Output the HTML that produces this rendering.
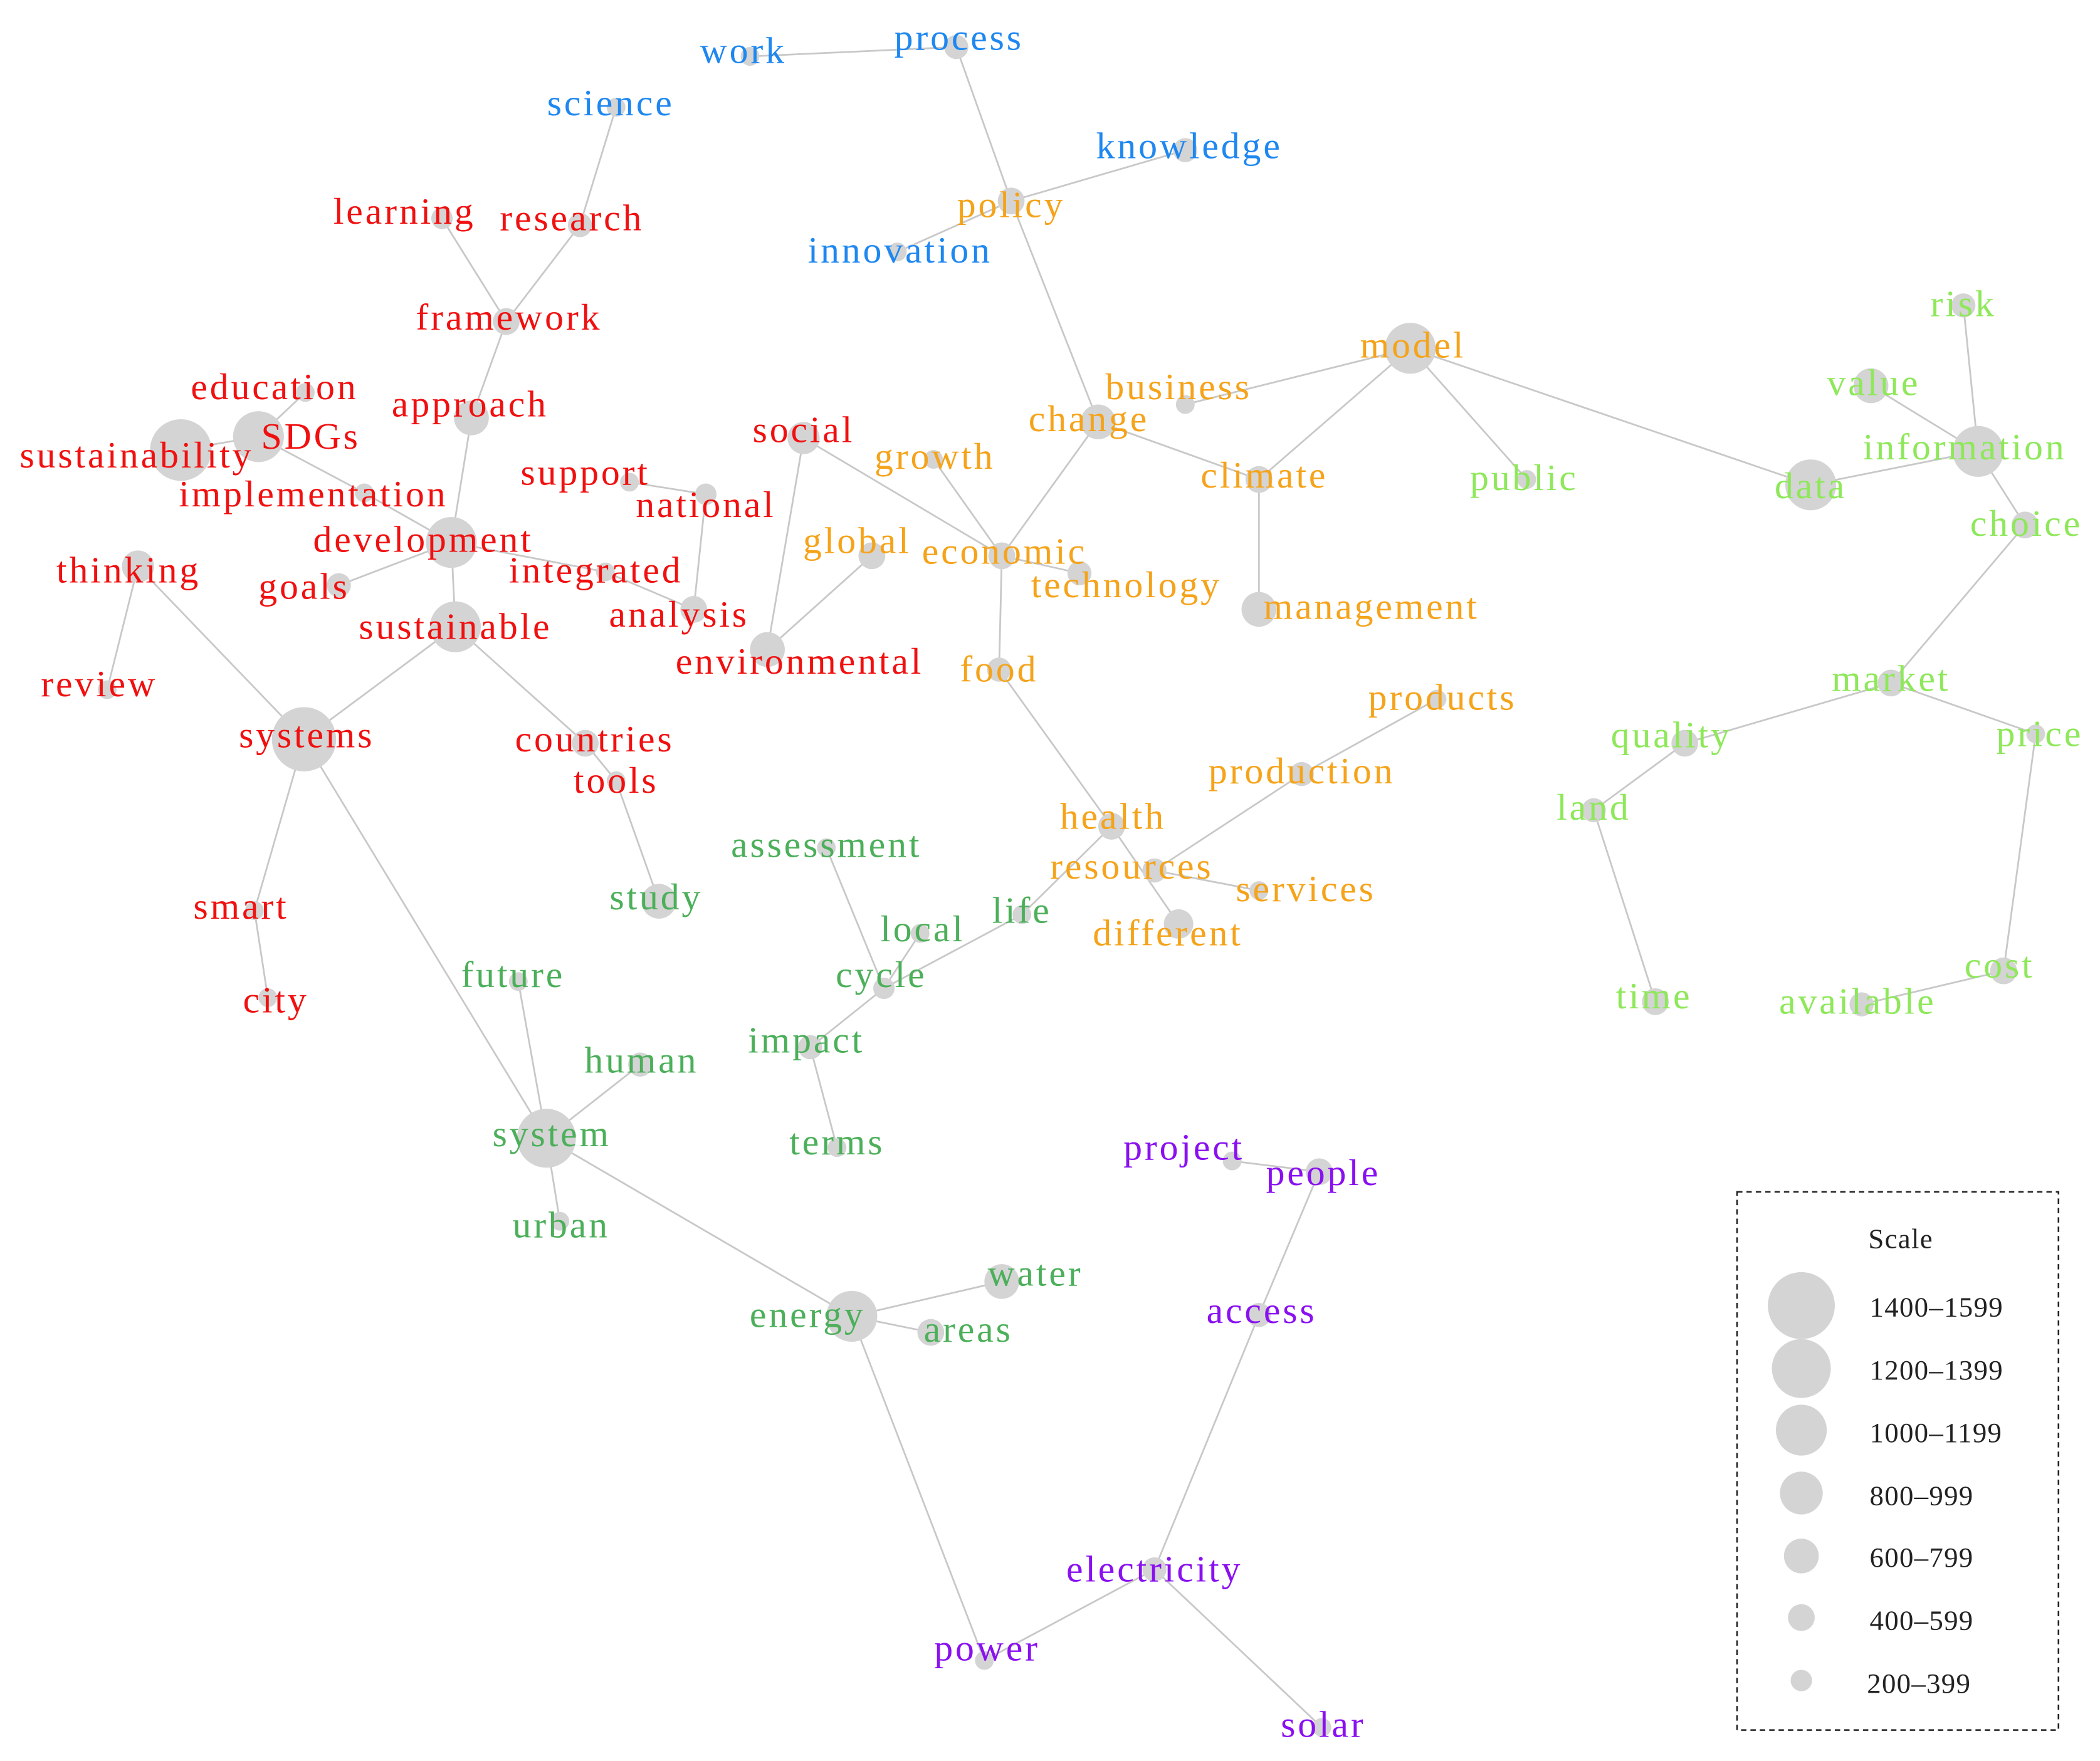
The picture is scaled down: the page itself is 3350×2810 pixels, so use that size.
<!DOCTYPE html>
<html><head><meta charset="utf-8"><style>
html,body{margin:0;padding:0;background:#fff;}
svg{display:block;}
text{font-family:"Liberation Serif",serif;font-size:28px;letter-spacing:1.8px;text-anchor:middle;}
text.lg{font-size:21px;letter-spacing:0.6px;text-anchor:start;fill:#222;}
.b{fill:#1e87f0}.r{fill:#f01010}.o{fill:#f5a31a}.g{fill:#4caf5a}.l{fill:#8ee85a}.p{fill:#8a10f0}
</style></head><body>
<svg width="3350" height="2810" viewBox="0 0 1568 1315" xmlns="http://www.w3.org/2000/svg">
<g stroke="#c8c8c8" stroke-width="1.3" fill="none">
<path d="M560 42L714 35L755 150L820 315M885 112L755 150L670 188"/>
<path d="M460 80L433 168L378 240L330 163M378 240L352 312L337 405L340 468L227 552L103 423L80 515"/>
<path d="M135 336L193 326L228 293M193 326L272 368L337 405L253 437M337 405L452 427L518 455L527 369L470 360"/>
<path d="M340 468L437 555L460 583L492 673M227 552L190 680L200 745M227 552L408 850"/>
<path d="M600 327L573 485L651 415M600 327L748 415L820 315L940 358L1053 260L885 302M1053 260L1140 358M1053 260L1352 362"/>
<path d="M697 343L748 415L806 428M748 415L746 500L830 617L880 690M940 358L940 455"/>
<path d="M1073 522L972 578L862 650L940 665M830 617L763 683L660 738L617 633M687 697L660 738L605 782L625 857"/>
<path d="M387 733L408 850L478 795M408 850L418 912M408 850L636 983L748 957M636 983L695 995M636 983L735 1240L862 1172L987 1290M862 1172L940 982L985 875L920 867"/>
<path d="M1466 228L1477 337L1397 288M1477 337L1352 362M1477 337L1512 392L1412 510L1520 548L1496 725L1390 750M1412 510L1258 555L1190 605L1236 748"/>
</g>
<g fill="#d4d4d4">
<circle cx="560" cy="42" r="7"/><circle cx="714" cy="35" r="9"/><circle cx="460" cy="80" r="7"/><circle cx="885" cy="112" r="9"/><circle cx="755" cy="150" r="10"/><circle cx="670" cy="188" r="7"/>
<circle cx="330" cy="163" r="8"/><circle cx="433" cy="168" r="9"/><circle cx="378" cy="240" r="10"/><circle cx="352" cy="312" r="13"/><circle cx="228" cy="293" r="7"/><circle cx="193" cy="326" r="19"/><circle cx="135" cy="336" r="23"/><circle cx="272" cy="368" r="7"/><circle cx="337" cy="405" r="19"/><circle cx="253" cy="437" r="9"/><circle cx="452" cy="427" r="7"/><circle cx="518" cy="455" r="10"/><circle cx="527" cy="369" r="8"/><circle cx="470" cy="360" r="7"/><circle cx="340" cy="468" r="19"/><circle cx="437" cy="555" r="10"/><circle cx="460" cy="583" r="7"/><circle cx="227" cy="552" r="24"/><circle cx="103" cy="423" r="12"/><circle cx="80" cy="515" r="7"/><circle cx="190" cy="680" r="7"/><circle cx="200" cy="745" r="7"/><circle cx="600" cy="327" r="12"/><circle cx="573" cy="485" r="13"/>
<circle cx="651" cy="415" r="10"/><circle cx="697" cy="343" r="7"/><circle cx="748" cy="415" r="10"/><circle cx="806" cy="428" r="9"/><circle cx="820" cy="315" r="13"/><circle cx="885" cy="302" r="7"/><circle cx="1053" cy="260" r="19"/><circle cx="940" cy="358" r="10"/><circle cx="940" cy="455" r="13"/><circle cx="746" cy="500" r="9"/><circle cx="830" cy="617" r="10"/><circle cx="862" cy="650" r="9"/><circle cx="880" cy="690" r="11"/><circle cx="940" cy="665" r="7"/><circle cx="972" cy="578" r="9"/><circle cx="1073" cy="522" r="7"/>
<circle cx="1140" cy="358" r="7"/><circle cx="1352" cy="362" r="19"/><circle cx="1477" cy="337" r="19"/><circle cx="1466" cy="228" r="9"/><circle cx="1397" cy="288" r="13"/><circle cx="1512" cy="392" r="10"/><circle cx="1412" cy="510" r="10"/><circle cx="1258" cy="555" r="10"/><circle cx="1520" cy="548" r="7"/><circle cx="1190" cy="605" r="9"/><circle cx="1236" cy="748" r="10"/><circle cx="1496" cy="725" r="10"/><circle cx="1390" cy="750" r="9"/>
<circle cx="617" cy="633" r="7"/><circle cx="687" cy="697" r="7"/><circle cx="660" cy="738" r="8"/><circle cx="763" cy="683" r="7"/><circle cx="605" cy="782" r="9"/><circle cx="625" cy="857" r="7"/><circle cx="492" cy="673" r="13"/><circle cx="387" cy="733" r="7"/><circle cx="478" cy="795" r="9"/><circle cx="408" cy="850" r="22"/><circle cx="418" cy="912" r="7"/><circle cx="636" cy="983" r="19"/><circle cx="748" cy="957" r="13"/><circle cx="695" cy="995" r="10"/><circle cx="735" cy="1240" r="7"/>
<circle cx="920" cy="867" r="7"/><circle cx="985" cy="875" r="10"/><circle cx="940" cy="982" r="9"/><circle cx="862" cy="1172" r="9"/><circle cx="987" cy="1290" r="7"/>
</g>
<g>
<text x="555" y="47" class="b">work</text><text x="716" y="37" class="b">process</text><text x="456" y="86" class="b">science</text><text x="888" y="118" class="b">knowledge</text><text x="672" y="196" class="b">innovation</text>
<text x="302" y="167" class="r">learning</text><text x="427" y="172" class="r">research</text><text x="380" y="246" class="r">framework</text><text x="205" y="298" class="r">education</text><text x="351" y="311" class="r">approach</text><text x="232" y="335" class="r">SDGs</text><text x="102" y="349" class="r">sustainability</text><text x="600" y="330" class="r">social</text><text x="437" y="362" class="r">support</text><text x="527" y="386" class="r">national</text><text x="234" y="378" class="r">implementation</text><text x="316" y="412" class="r">development</text><text x="96" y="435" class="r">thinking</text><text x="227" y="447" class="r">goals</text><text x="445" y="435" class="r">integrated</text><text x="507" y="468" class="r">analysis</text><text x="340" y="477" class="r">sustainable</text><text x="597" y="503" class="r">environmental</text><text x="74" y="520" class="r">review</text><text x="229" y="558" class="r">systems</text><text x="444" y="561" class="r">countries</text><text x="460" y="592" class="r">tools</text><text x="180" y="686" class="r">smart</text><text x="206" y="756" class="r">city</text>
<text x="755" y="162" class="o">policy</text><text x="698" y="350" class="o">growth</text><text x="880" y="298" class="o">business</text><text x="1055" y="267" class="o">model</text><text x="813" y="322" class="o">change</text><text x="944" y="364" class="o">climate</text><text x="640" y="413" class="o">global</text><text x="750" y="421" class="o">economic</text><text x="841" y="446" class="o">technology</text><text x="1024" y="462" class="o">management</text><text x="746" y="509" class="o">food</text><text x="1077" y="530" class="o">products</text><text x="972" y="585" class="o">production</text><text x="831" y="619" class="o">health</text><text x="845" y="656" class="o">resources</text><text x="975" y="673" class="o">services</text><text x="872" y="706" class="o">different</text>
<text x="1138" y="366" class="l">public</text><text x="1352" y="372" class="l">data</text><text x="1467" y="343" class="l">information</text><text x="1399" y="295" class="l">value</text><text x="1466" y="236" class="l">risk</text><text x="1513" y="400" class="l">choice</text><text x="1248" y="558" class="l">quality</text><text x="1412" y="516" class="l">market</text><text x="1523" y="557" class="l">price</text><text x="1190" y="612" class="l">land</text><text x="1235" y="753" class="l">time</text><text x="1387" y="757" class="l">available</text><text x="1493" y="730" class="l">cost</text>
<text x="617" y="640" class="g">assessment</text><text x="490" y="679" class="g">study</text><text x="689" y="703" class="g">local</text><text x="763" y="689" class="g">life</text><text x="658" y="737" class="g">cycle</text><text x="383" y="737" class="g">future</text><text x="602" y="786" class="g">impact</text><text x="479" y="801" class="g">human</text><text x="412" y="856" class="g">system</text><text x="625" y="862" class="g">terms</text><text x="419" y="924" class="g">urban</text><text x="773" y="960" class="g">water</text><text x="603" y="991" class="g">energy</text><text x="723" y="1002" class="g">areas</text>
<text x="884" y="866" class="p">project</text><text x="988" y="885" class="p">people</text><text x="942" y="988" class="p">access</text><text x="862" y="1181" class="p">electricity</text><text x="737" y="1240" class="p">power</text><text x="988" y="1297" class="p">solar</text>
</g>
<rect x="1297" y="890" width="240" height="402" fill="none" stroke="#222" stroke-width="1.2" stroke-dasharray="4 3"/>
<g fill="#d4d4d4">
<circle cx="1345" cy="975" r="25"/><circle cx="1345" cy="1022" r="22"/><circle cx="1345" cy="1068" r="19"/><circle cx="1345" cy="1115" r="16"/><circle cx="1345" cy="1162" r="13"/><circle cx="1345" cy="1208" r="10"/><circle cx="1345" cy="1255" r="8"/>
</g>
<text class="lg" x="1395" y="932">Scale</text>
<text class="lg" x="1396" y="983">1400–1599</text><text class="lg" x="1396" y="1030">1200–1399</text><text class="lg" x="1396" y="1077">1000–1199</text><text class="lg" x="1396" y="1124">800–999</text><text class="lg" x="1396" y="1170">600–799</text><text class="lg" x="1396" y="1217">400–599</text><text class="lg" x="1394" y="1264">200–399</text>
</svg>
</body></html>
